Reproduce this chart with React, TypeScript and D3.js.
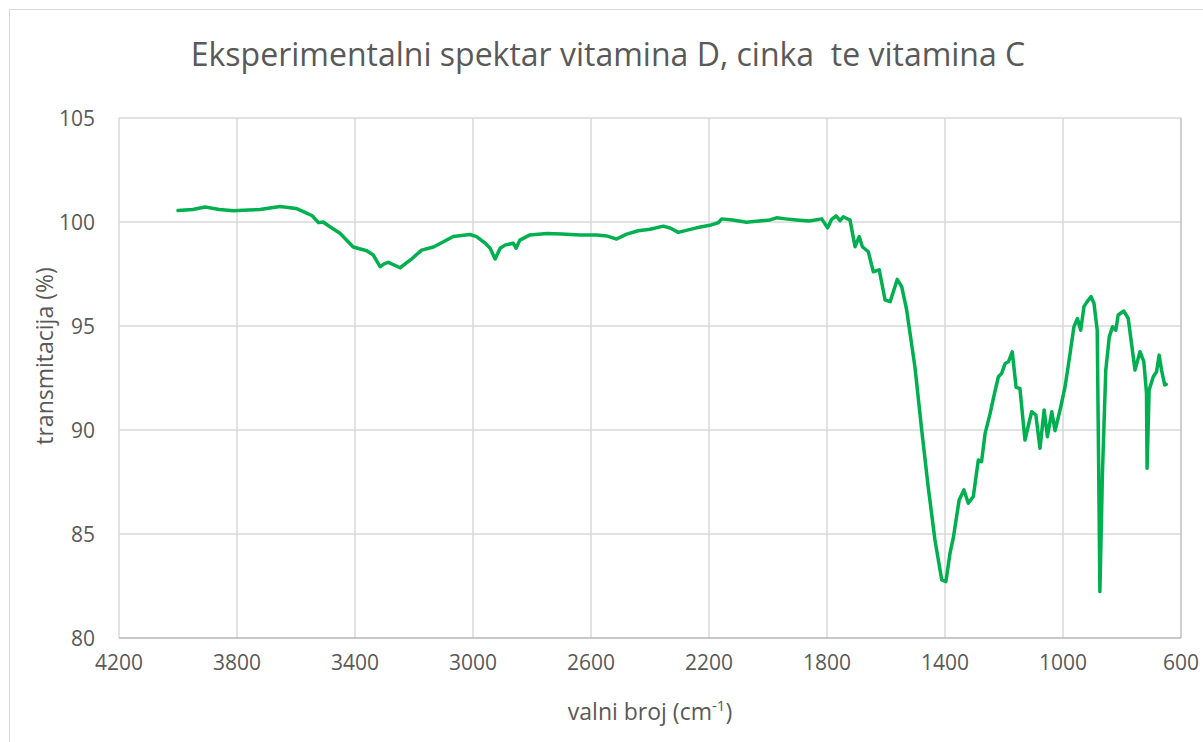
import * as d3 from 'd3';

// wavenumber (cm-1) and transmittance (%)
const wavenumbers = [
  4000, 3950, 3908, 3860, 3812, 3760, 3722, 3654, 3600, 3575, 3545, 3524, 3508, 3485, 3451,
  3406, 3360, 3338, 3315, 3300, 3287, 3247, 3210, 3174, 3134, 3100, 3067, 3010, 2988, 2960,
  2942, 2925, 2908, 2890, 2863, 2854, 2841, 2807, 2750, 2700, 2637, 2580, 2547, 2513, 2479,
  2440, 2400, 2355, 2330, 2304, 2270, 2242, 2197, 2168, 2157, 2120, 2073, 2030, 1993, 1971,
  1940, 1903, 1860, 1818, 1798, 1784, 1769, 1756, 1745, 1728, 1722, 1705, 1691, 1680, 1660,
  1643, 1623, 1603, 1586, 1562, 1547, 1530, 1502, 1479, 1457, 1434, 1411, 1397, 1383, 1372,
  1352, 1336, 1321, 1304, 1287, 1276, 1264, 1247, 1236, 1219, 1208, 1196, 1185, 1172, 1159,
  1146, 1129, 1117, 1106, 1092, 1078, 1064, 1053, 1038, 1027, 1010, 993, 976, 963, 951,
  940, 929, 918, 905, 895, 884, 879, 875, 866, 855, 843, 832, 821, 813, 794,
  779, 756, 739, 726, 717, 715, 708, 694, 683, 674, 666, 655, 650,
];
const transmittance = [
  100.55, 100.6, 100.72, 100.6, 100.54, 100.58, 100.6, 100.75, 100.65, 100.5, 100.3, 99.97, 100.0, 99.77, 99.46,
  98.8, 98.62, 98.41, 97.85, 98.0, 98.06, 97.8, 98.2, 98.65, 98.8, 99.05, 99.3, 99.4, 99.3, 99.0,
  98.74, 98.22, 98.74, 98.9, 98.98, 98.74, 99.13, 99.38, 99.45, 99.42, 99.38, 99.38, 99.33, 99.18, 99.42,
  99.58, 99.65, 99.8, 99.7, 99.5, 99.62, 99.72, 99.84, 99.97, 100.15, 100.1, 99.99, 100.05, 100.1, 100.2,
  100.15, 100.1, 100.05, 100.15, 99.72, 100.13, 100.3, 100.06, 100.25, 100.13, 100.1, 98.81, 99.3, 98.81, 98.57,
  97.61, 97.7, 96.25, 96.17, 97.24, 96.9, 95.77, 93.04, 90.0, 87.27, 84.71, 82.79, 82.71, 84.08, 84.8,
  86.64, 87.12, 86.48, 86.8, 88.56, 88.48, 89.84, 90.8, 91.52, 92.56, 92.72, 93.2, 93.28, 93.76, 92.05,
  92.0, 89.52, 90.24, 90.88, 90.72, 89.12, 90.96, 89.68, 90.88, 89.97, 90.96, 92.08, 93.68, 94.96, 95.36,
  94.8, 95.93, 96.17, 96.41, 96.09, 94.8, 88.08, 82.23, 88.08, 92.88, 94.49, 94.96, 94.8, 95.53, 95.72,
  95.37, 92.88, 93.77, 93.29, 91.77, 88.16, 91.92, 92.56, 92.8, 93.6, 92.88, 92.16, 92.2,
];

const xTicks = [4200, 3800, 3400, 3000, 2600, 2200, 1800, 1400, 1000, 600];
const yTicks = [80, 85, 90, 95, 100, 105];

const title = 'Eksperimentalni spektar vitamina D, cinka  te vitamina C';
const xTitle = 'valni broj (cm';
const yTitle = 'transmitacija (%)';

const W = 1203;
const H = 742;
const PLOT = { left: 119, right: 1181, top: 118, bottom: 638 };
const FONT = '"Open Sans", "Noto Sans", sans-serif';
const TEXT = '#595959';

export default function App() {
  const x = d3.scaleLinear().domain([4200, 600]).range([PLOT.left, PLOT.right]);
  const y = d3.scaleLinear().domain([80, 105]).range([PLOT.bottom, PLOT.top]);

  const points = wavenumbers.map((w, i) => [w, transmittance[i]] as [number, number]);
  const line = d3
    .line<[number, number]>()
    .x((d) => x(d[0]))
    .y((d) => y(d[1]));

  return (
    <svg
      width={W}
      height={H}
      style={{ position: 'absolute', left: 0, top: 0, background: '#fff' }}
      fontFamily={FONT}
    >
      <rect x={9.5} y={9.5} width={W + 20} height={H + 20} fill="#fff" stroke="#d9d9d9" strokeWidth={1} />

      {/* grid */}
      {yTicks.map((t) => (
        <line key={'gy' + t} x1={PLOT.left} x2={PLOT.right} y1={y(t)} y2={y(t)} stroke="#d9d9d9" strokeWidth={1.5} />
      ))}
      {xTicks.map((t) => (
        <line key={'gx' + t} x1={x(t)} x2={x(t)} y1={PLOT.top} y2={PLOT.bottom} stroke="#d9d9d9" strokeWidth={1.5} />
      ))}
      <line x1={PLOT.right} x2={PLOT.right} y1={PLOT.top} y2={PLOT.bottom} stroke="#c8c8c8" strokeWidth={1.5} />
      <line x1={PLOT.left} x2={PLOT.right} y1={PLOT.bottom} y2={PLOT.bottom} stroke="#bfbfbf" strokeWidth={1.5} />

      {/* tick labels */}
      {yTicks.map((t) => (
        <text key={'ty' + t} x={95} y={y(t)} dy="0.36em" textAnchor="end" fontSize={21} fill={TEXT}>
          {t}
        </text>
      ))}
      {xTicks.map((t) => (
        <text key={'tx' + t} x={x(t)} y={670} textAnchor="middle" fontSize={21} fill={TEXT}>
          {t}
        </text>
      ))}

      {/* spectrum */}
      <path
        d={line(points) || ''}
        fill="none"
        stroke="#00b050"
        strokeWidth={3.5}
        strokeLinejoin="round"
        strokeLinecap="round"
      />

      {/* titles */}
      <text x={608} y={66} textAnchor="middle" fontSize={32} fill={TEXT} style={{ whiteSpace: 'pre' }}>
        {title}
      </text>
      <text x={(PLOT.left + PLOT.right) / 2} y={720} textAnchor="middle" fontSize={23} fill={TEXT}>
        {xTitle}
        <tspan fontSize={15} dy={-9}>-1</tspan>
        <tspan dy={9}>)</tspan>
      </text>
      <text
        transform={`translate(53, 356) rotate(-90)`}
        textAnchor="middle"
        fontSize={23}
        fill={TEXT}
      >
        {yTitle}
      </text>
    </svg>
  );
}
